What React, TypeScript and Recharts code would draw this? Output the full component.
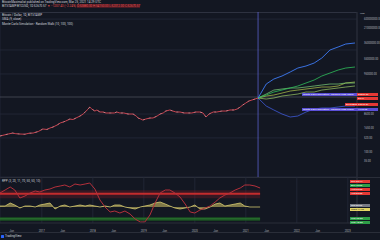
import { Area, CartesianGrid, ComposedChart, Line, ReferenceArea, ReferenceLine, XAxis, YAxis } from 'recharts'

// price history (BTCUSD daily, sampled)
const priceDates = [
  2016.18, 2016.26, 2016.34, 2016.43, 2016.49, 2016.57, 2016.67, 2016.75, 2016.83, 2016.93,
  2017.02, 2017.1, 2017.16, 2017.22, 2017.3, 2017.36, 2017.42, 2017.47, 2017.55, 2017.61,
  2017.67, 2017.75, 2017.81, 2017.85, 2017.91, 2017.94, 2017.98, 2018.04, 2018.08, 2018.14,
  2018.2, 2018.26, 2018.34, 2018.42, 2018.47, 2018.53, 2018.61, 2018.69, 2018.79, 2018.85,
  2018.89, 2018.94, 2018.98, 2019.04, 2019.12, 2019.18, 2019.26, 2019.32, 2019.38, 2019.43,
  2019.51, 2019.57, 2019.63, 2019.71, 2019.79, 2019.87, 2019.94, 2020.02, 2020.1, 2020.16,
  2020.22, 2020.28, 2020.36, 2020.43, 2020.53, 2020.61, 2020.69, 2020.77, 2020.83, 2020.89,
  2020.94, 2021.0, 2021.06, 2021.12, 2021.18, 2021.24,
]
const priceValues = [
  650, 730, 820, 920, 850, 820, 800, 900, 920, 1100,
  1480, 1400, 1660, 1870, 2360, 2990, 3360, 3780, 4780, 4500,
  5380, 6800, 8600, 10900, 15500, 19600, 15500, 12200, 13800, 10900,
  10900, 9700, 9700, 9700, 10900, 9700, 9700, 8600, 8600, 6800,
  5380, 4780, 4250, 4780, 5380, 5380, 6800, 8600, 9700, 12200,
  13800, 12200, 10900, 10900, 9700, 9700, 9700, 10900, 10900, 9700,
  6050, 8600, 10900, 10900, 12200, 12200, 13800, 13800, 15500, 19600,
  24800, 31300, 39600, 44600, 50100, 56400,
]

// monte carlo paths
const simDates = [2021.24, 2021.4, 2021.55, 2021.71, 2021.87, 2022.02, 2022.18, 2022.34, 2022.49, 2022.65, 2022.81, 2022.96, 2023.14]
const simUpper = [56400, 292000, 526000, 748000, 1196000, 1910000, 2420000, 3440000, 6190000, 15860000, 22600000, 32100000, 36100000]
const simGreen = [56400, 80200, 114000, 144000, 183000, 231000, 329000, 467000, 748000, 1063000, 1510000, 1910000, 2150000]
const simLight = [56400, 90200, 144000, 162000, 183000, 183000, 205000, 231000, 260000, 292000, 292000, 329000, 329000]
const simOlive = [56400, 71300, 80200, 101000, 128000, 144000, 162000, 183000, 205000, 205000, 231000, 329000, 369000]
const simPale = [56400, 50100, 56400, 71300, 80200, 90200, 114000, 114000, 144000, 162000, 183000, 205000, 231000]
const simLower = [56400, 22000, 13800, 8600, 6050, 6800, 10900, 15500, 17400, 17400, 19600, 22000, 22000]

// lower pane oscillators
const oscDates = [
  2016.18, 2016.28, 2016.38, 2016.47, 2016.57, 2016.67, 2016.77, 2016.87, 2016.96, 2017.06,
  2017.16, 2017.26, 2017.36, 2017.45, 2017.55, 2017.65, 2017.75, 2017.85, 2017.94, 2018.04,
  2018.14, 2018.24, 2018.34, 2018.43, 2018.53, 2018.63, 2018.73, 2018.83, 2018.93, 2019.02,
  2019.12, 2019.22, 2019.32, 2019.42, 2019.51, 2019.61, 2019.71, 2019.81, 2019.91, 2020.0,
  2020.1, 2020.2, 2020.3, 2020.4, 2020.49, 2020.59, 2020.69, 2020.79, 2020.89, 2020.98,
  2021.08, 2021.18, 2021.28,
]
const rppValues = [
  75, 82.5, 90, 82.5, 62.5, 67.5, 75, 80, 77.5, 82.5,
  85, 90, 92.5, 95, 90, 97.5, 95, 97.5, 100, 85,
  57.5, 40, 27.5, 30, 25, 30, 22.5, 10, 2.5, 2.5,
  20, 50, 75, 82.5, 82.5, 75, 65, 47.5, 27.5, 25,
  32.5, 37.5, 42.5, 52.5, 62.5, 70, 75, 82.5, 87.5, 95,
  95, 92.5, 87.5,
]
const waveValues = [
  42.5, 42.5, 50, 45, 37.5, 42.5, 42.5, 40, 45, 47.5,
  50, 35, 42.5, 45, 40, 42.5, 45, 42.5, 45, 42.5,
  40, 42.5, 40, 45, 45, 40, 37.5, 35, 40, 42.5,
  45, 50, 52.5, 47.5, 42.5, 37.5, 35, 37.5, 40, 45,
  35, 35, 40, 47.5, 50, 42.5, 45, 47.5, 50, 42.5,
  40, 40, 40,
]

const priceTicks = [6, 14, 35, 100, 220, 520, 1650, 3800, 8600, 420000, 950000, 2400000, 5500000, 16000000, 36000000, 93000000, 210000000, 600000000]
const timeTicks = [2016.41, 2017, 2017.41, 2018, 2018.41, 2019, 2019.41, 2020, 2020.41, 2021, 2021.41, 2022, 2022.41, 2023]
const timeLabels = ['Jun', '2017', 'Jun', '2018', 'Jun', '2019', 'Jun', '2020', 'Jun', '2021', 'Jun', '2022', 'Jun', '2023']

const lastPrice = 63400
const forecastStart = 2021.24

const BG = '#131722'
const GRID = '#252a3a'
const AXIS_TEXT = '#b2b5be'
const FONT = 'Roboto, "Noto Sans", sans-serif'

const mainRows = [
  ...priceDates.map((t, i) => ({ t, price: priceValues[i] })),
  ...simDates.slice(1).map((t, j) => ({
    t,
    up: simUpper[j + 1],
    green: simGreen[j + 1],
    light: simLight[j + 1],
    olive: simOlive[j + 1],
    pale: simPale[j + 1],
    low: simLower[j + 1],
  })),
]
// join the fan to the last close
Object.assign(mainRows[priceDates.length - 1], {
  up: simUpper[0], green: simGreen[0], light: simLight[0], olive: simOlive[0], pale: simPale[0], low: simLower[0],
})

const oscRows = oscDates.map((t, i) => ({ t, rpp: rppValues[i], wave: waveValues[i] }))

const axisTick = { fill: AXIS_TEXT, fontSize: 2.7, fontFamily: FONT }
const fmtPrice = (v: number) => v.toFixed(2)

function Tag({ top, left, width, bg, color = '#fff', children }: { top: number; left: number; width: number; bg: string; color?: string; children: string }) {
  return (
    <div
      style={{
        position: 'absolute', top, left, width, height: 3, background: bg, color,
        fontSize: 2.5, lineHeight: '3px', whiteSpace: 'nowrap', overflow: 'hidden', paddingLeft: 1, boxSizing: 'border-box',
      }}
    >
      {children}
    </div>
  )
}

const textLine = (top: number, color = '#d1d4dc') => ({
  position: 'absolute' as const, left: 2, top, fontSize: 3, lineHeight: '3px', color, whiteSpace: 'nowrap' as const,
})

export default function App() {
  return (
    <div style={{ position: 'absolute', left: 0, top: 0, width: 380, height: 240, background: BG, overflow: 'hidden', fontFamily: FONT }}>
      <div style={{ position: 'absolute', left: 0, top: 12, width: 357, height: 1, background: '#363a45' }} />

      <div style={{ position: 'absolute', left: 0, top: 12 }}>
        <ComposedChart width={380} height={165} data={mainRows} margin={{ top: 0, right: 0, bottom: 0, left: 0 }}>
          <CartesianGrid stroke={GRID} strokeWidth={0.8} />
          <XAxis
            type="number"
            dataKey="t"
            domain={[2016.18, 2023.18]}
            ticks={timeTicks}
            tick={false}
            axisLine={false}
            tickLine={false}
            height={0}
            allowDataOverflow
          />
          <YAxis
            orientation="right"
            scale="log"
            domain={[5.26, 1.38e9]}
            ticks={priceTicks}
            tickFormatter={fmtPrice}
            tick={axisTick}
            tickMargin={1}
            width={23}
            axisLine={{ stroke: '#2a2e39' }}
            tickLine={false}
            allowDataOverflow
          />
          <ReferenceLine x={forecastStart} stroke="#6b6ff2" strokeWidth={0.8} strokeOpacity={0.8} />
          <ReferenceLine y={lastPrice} stroke="#5d606b" strokeWidth={0.6} />
          <Line dataKey="price" stroke="#c9424f" strokeWidth={1} dot={false} isAnimationActive={false} />
          <Line dataKey="price" stroke="#e6e6e6" strokeWidth={0.5} strokeDasharray="2 4" strokeOpacity={0.7} dot={false} isAnimationActive={false} />
          <Line dataKey="low" stroke="#3f5bd9" strokeWidth={0.8} dot={false} isAnimationActive={false} />
          <Line dataKey="pale" stroke="#9ccc65" strokeWidth={0.7} dot={false} isAnimationActive={false} />
          <Line dataKey="olive" stroke="#b5c94a" strokeWidth={0.7} dot={false} isAnimationActive={false} />
          <Line dataKey="light" stroke="#7ed27a" strokeWidth={0.7} dot={false} isAnimationActive={false} />
          <Line dataKey="green" stroke="#2fbf5a" strokeWidth={0.8} dot={false} isAnimationActive={false} />
          <Line dataKey="up" stroke="#3d7bf5" strokeWidth={0.9} dot={false} isAnimationActive={false} />
        </ComposedChart>
      </div>

      <div style={{ position: 'absolute', left: 0, top: 177, width: 380, height: 1, background: '#2a2e39' }} />
      <div style={{ position: 'absolute', left: 0, top: 177 }}>
        <ComposedChart width={380} height={56} data={oscRows} margin={{ top: 0, right: 0, bottom: 0, left: 0 }}>
          <CartesianGrid stroke={GRID} strokeWidth={0.8} horizontal={false} />
          <XAxis
            type="number"
            dataKey="t"
            domain={[2016.18, 2023.18]}
            ticks={timeTicks}
            tickFormatter={(v: number) => timeLabels[timeTicks.indexOf(v)]}
            tick={axisTick}
            tickMargin={1}
            height={10}
            axisLine={{ stroke: '#2a2e39' }}
            tickLine={false}
            allowDataOverflow
          />
          <YAxis orientation="right" domain={[0, 115]} width={23} tick={false} axisLine={{ stroke: '#2a2e39' }} tickLine={false} />
          <ReferenceArea x1={2016.18} x2={2021.28} y1={62} y2={82} fill="#7a1b24" fillOpacity={0.35} stroke="none" />
          <ReferenceArea x1={2016.18} x2={2021.28} y1={70.5} y2={75.5} fill="#d32f2f" fillOpacity={0.9} stroke="none" />
          <ReferenceArea x1={2016.18} x2={2021.28} y1={5} y2={15} fill="#1b5e20" fillOpacity={0.6} stroke="none" />
          <ReferenceArea x1={2016.18} x2={2021.28} y1={9} y2={12} fill="#2e7d32" fillOpacity={0.9} stroke="none" />
          <Area dataKey="wave" baseValue={40} stroke="#e9dc7a" strokeWidth={0.7} fill="#d8c868" fillOpacity={0.55} dot={false} isAnimationActive={false} />
          <Line dataKey="rpp" stroke="#b3303b" strokeWidth={1} dot={false} isAnimationActive={false} />
        </ComposedChart>
      </div>

      <div style={textLine(1)}>BitcoinMaximalist published on TradingView.com, Mar 25, 2021 14:29 UTC</div>
      <div style={textLine(5)}>
        BITSTAMP:BTCUSD, 1D 52670.57 <span style={{ color: '#ef5350' }}>▼ −1207.43 (−2.24%) </span>
        <span style={{ color: '#ef5350', background: '#4a1a24' }}>O:53880.00 H:54150.00 L:52012.00 C:52670.57</span>
      </div>
      <div style={textLine(14)}>Bitcoin / Dollar, 1D, BITSTAMP</div>
      <div style={textLine(18)}>SMA (9, close)</div>
      <div style={textLine(23)}>Monte Carlo Simulation - Random Walk (10, 100, 100)</div>
      <div style={textLine(180)}>RPP (3, 20, 11, 70, 50, 50, 10)</div>

      <div style={{ position: 'absolute', left: 360, top: 12, fontSize: 2.5, lineHeight: '3px', color: AXIS_TEXT }}>USD</div>

      <Tag top={93} left={302} width={55} bg="#5b4fd6">Monte Carlo Simulation - Random Walk Upper</Tag>
      <Tag top={93} left={357} width={21} bg="#e53935">56833.32</Tag>
      <Tag top={97} left={357} width={21} bg="#e53935">53.77</Tag>
      <Tag top={103} left={345} width={12} bg="#e53935">BITSTAMP</Tag>
      <Tag top={103} left={357} width={21} bg="#e53935">52670.57</Tag>
      <Tag top={108} left={302} width={55} bg="#5b4fd6">Monte Carlo Simulation - Random Walk Lower</Tag>
      <Tag top={108} left={357} width={21} bg="#5b4fd6">7778.38</Tag>

      <Tag top={180} left={350} width={20} bg="#e53935">RPP 82.77</Tag>
      <Tag top={184} left={350} width={20} bg="#2e9e48">Bull 70.00</Tag>
      <Tag top={188} left={350} width={20} bg="#e53935">Hist 60.00</Tag>
      <Tag top={192} left={350} width={20} bg="#e53935">Hist 55.00</Tag>
      <Tag top={204} left={350} width={20} bg="#787b86">Mid 50.00</Tag>
      <Tag top={208} left={350} width={20} bg="#e3d565" color="#131722">Wave 44.63</Tag>
      <Tag top={217} left={350} width={20} bg="#2e9e48">Low 20.00</Tag>
      <Tag top={221} left={350} width={20} bg="#2e9e48">Low 10.00</Tag>

      <div style={{ position: 'absolute', left: 0, top: 232, width: 380, height: 1, background: '#2a2e39' }} />
      <div style={{ position: 'absolute', left: 1, top: 235, width: 3, height: 3, background: '#2962ff', borderRadius: 0.5 }} />
      <div style={{ position: 'absolute', left: 5, top: 235, fontSize: 3, lineHeight: '3px', color: '#d1d4dc' }}>TradingView</div>
    </div>
  )
}
